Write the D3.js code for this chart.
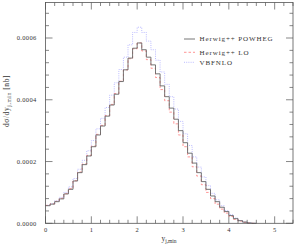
<!DOCTYPE html>
<html>
<head>
<meta charset="UTF-8">
<script src="https://d3js.org/d3.v7.min.js"></script>
<style>
  body { margin: 0; background: #fff; }
  svg { display: block; }
  text { font-family: 'Liberation Serif', 'DejaVu Serif', serif; fill: #333; }
</style>
</head>
<body>
<svg id="chart" width="295" height="245"></svg>
<script>
// bin lower edges (width 0.1) in y_j,min
const binEdges = d3.range(0, 46).map(i => +(i * 0.1).toFixed(1));
// dsigma/dy values in units of 1e-4 nb
const powheg = [0.57,0.62,0.70,0.79,0.95,1.10,1.37,1.64,1.90,2.18,
                2.48,2.86,3.15,3.47,3.83,4.18,4.59,4.97,5.35,5.67,
                5.84,5.62,5.38,5.13,4.84,4.45,4.10,3.73,3.37,3.00,
                2.61,2.27,1.95,1.64,1.35,1.10,0.885,0.70,0.52,0.38,
                0.25,0.15,0.085,0.04,0.01,0];
const lo     = [0.58,0.63,0.71,0.81,0.96,1.12,1.38,1.66,1.92,2.20,
                2.50,2.88,3.17,3.49,3.85,4.20,4.60,4.97,5.33,5.65,
                5.84,5.58,5.30,5.02,4.72,4.33,3.97,3.60,3.22,2.86,
                2.48,2.15,1.83,1.53,1.25,1.00,0.80,0.62,0.46,0.33,
                0.22,0.13,0.07,0.03,0.01,0];
const vbfnlo = [0.58,0.64,0.73,0.84,1.00,1.18,1.45,1.75,2.04,2.35,
                2.68,3.06,3.40,3.75,4.15,4.55,4.98,5.38,5.78,6.18,
                6.35,6.18,5.90,5.62,5.28,4.90,4.50,4.10,3.70,3.30,
                2.90,2.52,2.15,1.82,1.50,1.22,0.97,0.76,0.57,0.41,
                0.28,0.17,0.09,0.04,0.01,0];

const xTicks = [0, 1, 2, 3, 4, 5];
const yTicks = [0, 0.0002, 0.0004, 0.0006];
const seriesNames = ["Herwig++ POWHEG", "Herwig++ LO", "VBFNLO"];

const m = {left: 45.5, right: 293, top: 2.5, bottom: 223.3};
const svg = d3.select("#chart");

const x = d3.scaleLinear().domain([0, 5.4]).range([m.left, m.right]);
const y = d3.scaleLinear().domain([0, 0.000715]).range([m.bottom, m.top]);

const series = [
  {name: seriesNames[0], vals: powheg, color: "#666", dash: null, width: 0.9},
  {name: seriesNames[1], vals: lo, color: "#ff7a7a", dash: "2.5,2", width: 0.8},
  {name: seriesNames[2], vals: vbfnlo, color: "#a9aaff", dash: "1,1.2", width: 0.8}
];

const line = d3.line()
  .x(d => x(d[0]))
  .y(d => y(d[1]))
  .curve(d3.curveStepAfter);

// draw in reverse so POWHEG sits on top
series.slice().reverse().forEach(s => {
  const pts = binEdges.map((e, i) => [e, s.vals[i] * 1e-4]);
  pts.push([binEdges[binEdges.length - 1] + 0.1, 0]);
  svg.append("path")
    .attr("d", line(pts))
    .attr("fill", "none")
    .attr("stroke", s.color)
    .attr("stroke-width", s.width)
    .attr("stroke-dasharray", s.dash);
});

// frame
svg.append("rect")
  .attr("x", m.left).attr("y", m.top)
  .attr("width", m.right - m.left).attr("height", m.bottom - m.top)
  .attr("fill", "none").attr("stroke", "#555").attr("stroke-width", 0.8);

// ticks on all four sides
const tk = svg.append("g").attr("stroke", "#555").attr("stroke-width", 0.7);
const xMinor = d3.range(0, 5.41, 0.2);
xMinor.forEach(v => {
  const major = Math.abs(v - Math.round(v)) < 1e-6;
  const len = major ? 7 : 3.5;
  tk.append("line").attr("x1", x(v)).attr("x2", x(v)).attr("y1", m.bottom).attr("y2", m.bottom - len);
  tk.append("line").attr("x1", x(v)).attr("x2", x(v)).attr("y1", m.top).attr("y2", m.top + len);
});
const yMinor = d3.range(0, 0.000715, 0.00004);
yMinor.forEach(v => {
  const major = Math.abs(v / 0.0002 - Math.round(v / 0.0002)) < 1e-6;
  const len = major ? 7 : 3.5;
  tk.append("line").attr("y1", y(v)).attr("y2", y(v)).attr("x1", m.left).attr("x2", m.left + len);
  tk.append("line").attr("y1", y(v)).attr("y2", y(v)).attr("x1", m.right).attr("x2", m.right - len);
});

// tick labels
svg.append("g").selectAll("text").data(xTicks).join("text")
  .attr("x", d => x(d)).attr("y", 231.5)
  .attr("text-anchor", "middle").attr("font-size", 6.5)
  .text(d => d);
svg.append("g").selectAll("text").data(yTicks).join("text")
  .attr("x", 36.5).attr("y", d => y(d) + 2.2)
  .attr("text-anchor", "end").attr("font-size", 6.5).attr("letter-spacing", 0.3)
  .text(d => d.toFixed(4));

// axis titles
const xt = svg.append("text").attr("x", 169).attr("y", 241).attr("text-anchor", "middle").attr("font-size", 7.5);
xt.append("tspan").text("y");
xt.append("tspan").attr("font-size", 5.5).attr("dy", 1.8).text("j,min");

const yt = svg.append("text").attr("transform", "translate(9,101) rotate(-90)")
  .attr("text-anchor", "middle").attr("font-size", 7.5).attr("letter-spacing", 0.6);
yt.append("tspan").text("dσ/dy");
yt.append("tspan").attr("font-size", 5.5).attr("dy", 1.8).text("j,min");
yt.append("tspan").attr("dy", -1.8).text(" [nb]");

// legend
const lg = svg.append("g");
series.forEach((s, i) => {
  const ly = [39, 52.3, 62.3][i];
  lg.append("line").attr("x1", 184).attr("x2", 195).attr("y1", ly).attr("y2", ly)
    .attr("stroke", s.color).attr("stroke-width", s.width).attr("stroke-dasharray", s.dash);
  lg.append("text").attr("x", 199.5).attr("y", ly + 2.3).attr("font-size", 7)
    .attr("letter-spacing", 0.9)
    .text(s.name);
});
</script>
</body>
</html>
